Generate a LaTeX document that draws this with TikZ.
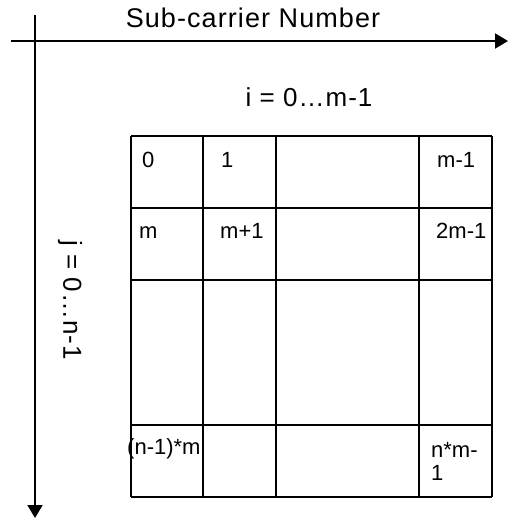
\documentclass[tikz,border=0pt]{standalone}
\usepackage{fontspec}
\setmainfont{Liberation Sans}
\newfontfamily\widefont[LetterSpace=4]{Liberation Sans}
\usetikzlibrary{arrows.meta}
\tikzset{
	axis/.style={draw=black,line width=2pt,-{Triangle[length=13pt,width=15pt]}},
	gridln/.style={draw=black,line width=2pt},
	cell/.style={anchor=base west,inner sep=0pt,font=\fontsize{22}{23}\selectfont},
	lbl/.style={inner sep=0pt,font=\widefont\fontsize{26}{28}\selectfont},
}
\begin{document}
\begin{tikzpicture}[x=1pt,y=-1pt]
	\useasboundingbox (0,0) rectangle (508,519);
	% axes
	\coordinate (hstart) at (11,41);
	\coordinate (hend) at (508,41);
	\coordinate (vstart) at (35,15);
	\coordinate (vend) at (35,518);
	\draw[axis] (hstart)--(hend);
	\draw[axis] (vstart)--(vend);
	\node[lbl,font=\widefont\fontsize{27}{29}\selectfont] (title) at (253,18) {Sub-carrier Number};
	\node[lbl] (irange) at (309,97) {i = 0…m-1};
	\node[lbl,rotate=-90] (jrange) at (70,300) {j = 0…n-1};
	% grid
	\foreach \x in {131,203,276,419,492}
	\draw[gridln] (\x,136)--(\x,497);
	\foreach \y in {136,208,280,425,497}
	\draw[gridln] (131,\y)--(492,\y);
	% entries
	\node[cell] (c00) at (142,167) {0};
	\node[cell] (c01) at (221,167) {1};
	\node[cell] (c03) at (437,167) {m-1};
	\node[cell] (c10) at (139,238) {m};
	\node[cell] (c11) at (220,238) {m+1};
	\node[cell] (c13) at (436,238) {2m-1};
	\node[cell] (c30) at (127,454) {(n-1)*m};
	\node[cell] (c33a) at (431,457) {n*m-};
	\node[cell] (c33b) at (431,480) {1};
\end{tikzpicture}
\end{document}
